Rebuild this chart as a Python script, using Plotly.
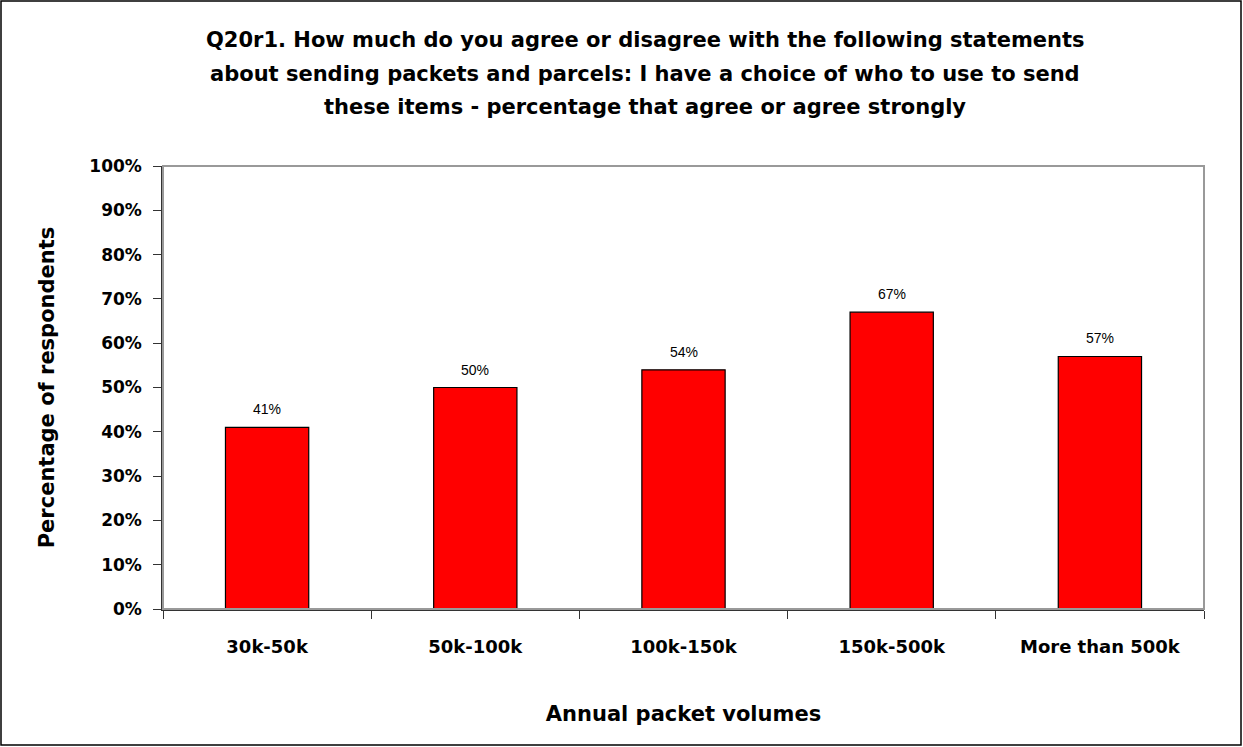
import plotly.graph_objects as go

categories = ["30k-50k", "50k-100k", "100k-150k", "150k-500k", "More than 500k"]
values = [41, 50, 54, 67, 57]
labels = ["41%", "50%", "54%", "67%", "57%"]
y_ticks = [0, 10, 20, 30, 40, 50, 60, 70, 80, 90, 100]
y_tick_text = [f"{v}%" for v in y_ticks]
title_lines = [
    "Q20r1. How much do you agree or disagree with the following statements",
    "about sending packets and parcels: I have a choice of who to use to send",
    "these items - percentage that agree or agree strongly",
]

W, H = 1243, 747
L, R, T, B = 163, 39, 166, 138
PW, PH = W - L - R, H - T - B

FONT = "DejaVu Sans"

fig = go.Figure()
fig.add_trace(go.Bar(
    x=categories, y=values,
    marker=dict(color="#ff0000", line=dict(color="black", width=1.2)),
    width=0.4, hoverinfo="skip",
))

annotations = []
for cat, v, lab in zip(categories, values, labels):
    annotations.append(dict(
        x=cat, y=v, xref="x", yref="y", text=lab, showarrow=False,
        yanchor="bottom", yshift=8,
        font=dict(family="Liberation Sans, Arial", size=14, color="black"),
    ))
title_y_px = [40, 74, 107]
for line, ypx in zip(title_lines, title_y_px):
    annotations.append(dict(
        x=(645 - L) / PW, y=(H - B - ypx) / PH, xref="paper", yref="paper",
        text=line, showarrow=False, xanchor="center", yanchor="middle",
        font=dict(family=FONT, size=21, color="black", weight="bold"),
    ))

fig.update_layout(
    width=W, height=H,
    margin=dict(l=L, r=R, t=T, b=B, pad=0),
    paper_bgcolor="white", plot_bgcolor="white",
    showlegend=False,
    annotations=annotations,
    xaxis=dict(
        title=dict(text="Annual packet volumes", standoff=50,
                   font=dict(family=FONT, size=21, color="black", weight="bold")),
        tickfont=dict(family=FONT, size=18, color="black", weight="bold"),
        showline=True, linecolor="#333333", linewidth=1.5,
        ticks="outside", ticklen=8, tickcolor="#333333",
        tickson="boundaries", showgrid=False, ticklabelstandoff=21,
    ),
    yaxis=dict(
        title=dict(text="Percentage of respondents", standoff=29,
                   font=dict(family=FONT, size=21, color="black", weight="bold")),
        range=[0, 100], tickvals=y_ticks, ticktext=y_tick_text,
        tickfont=dict(family=FONT, size=17, color="black", weight="bold"),
        showline=True, linecolor="#333333", linewidth=1.5,
        ticks="outside", ticklen=8, tickcolor="#333333",
        showgrid=False, zeroline=False, ticklabelstandoff=8,
    ),
    shapes=[
        dict(type="rect", xref="paper", yref="paper", x0=0, x1=1, y0=0, y1=1,
             line=dict(color="#999999", width=2), layer="above"),
        dict(type="rect", xref="paper", yref="paper",
             x0=-(L - 1) / PW, x1=1 + (R - 2) / PW,
             y0=-(B - 2) / PH, y1=1 + (T - 1) / PH,
             line=dict(color="black", width=1.5), layer="above"),
    ],
)

fig.write_html("out.html", config={"displayModeBar": False},
               post_script="document.body.style.margin='0';document.body.style.overflow='hidden';")
